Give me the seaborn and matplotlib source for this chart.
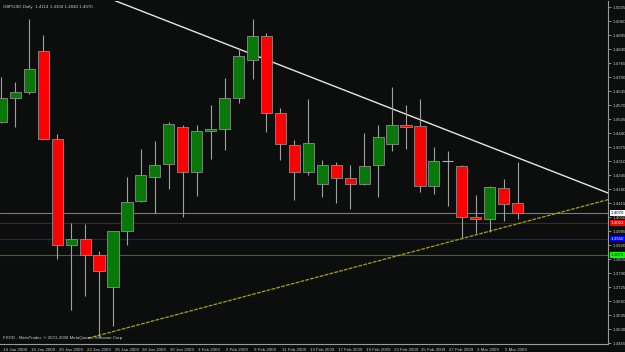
import matplotlib
matplotlib.use("Agg")
import matplotlib.pyplot as plt
import matplotlib.transforms as mtransforms
import numpy as np
import pandas as pd
import seaborn as sns

# ---- data -------------------------------------------------------------
dates = ["14 Jan", "15 Jan", "16 Jan", "19 Jan", "20 Jan", "21 Jan", "22 Jan", "23 Jan",
         "26 Jan", "27 Jan", "28 Jan", "29 Jan", "30 Jan", "2 Feb", "3 Feb", "4 Feb",
         "5 Feb", "6 Feb", "9 Feb", "10 Feb", "11 Feb", "12 Feb", "13 Feb", "16 Feb",
         "17 Feb", "18 Feb", "19 Feb", "20 Feb", "23 Feb", "24 Feb", "25 Feb", "26 Feb",
         "27 Feb", "2 Mar", "3 Mar", "4 Mar", "5 Mar", "6 Mar"]
opens = [1.4490, 1.4601, 1.4630, 1.4822, 1.4413, 1.3920, 1.3948, 1.3872, 1.3724, 1.3985,
         1.4123, 1.4234, 1.4295, 1.4466, 1.4258, 1.4448, 1.4459, 1.4601, 1.4778, 1.4889,
         1.4533, 1.4386, 1.4260, 1.4203, 1.4290, 1.4230, 1.4203, 1.4290, 1.4390, 1.4476,
         1.4472, 1.4194, 1.4309, 1.4287, 1.4049, 1.4042, 1.4185, 1.4114]
highs = [1.4701, 1.4675, 1.4969, 1.4895, 1.4434, 1.4021, 1.4017, 1.3892, 1.3986, 1.4234,
         1.4367, 1.4403, 1.4491, 1.4476, 1.4476, 1.4569, 1.4694, 1.4833, 1.4969, 1.4906,
         1.4557, 1.4407, 1.4596, 1.4315, 1.4305, 1.4291, 1.4439, 1.4476, 1.4652, 1.4569,
         1.4596, 1.4376, 1.4356, 1.4293, 1.4152, 1.4195, 1.4225, 1.4304]
lows = [1.4485, 1.4466, 1.4621, 1.4410, 1.3856, 1.3618, 1.3683, 1.3493, 1.3544, 1.3920,
        1.4120, 1.4067, 1.4181, 1.4049, 1.4148, 1.4318, 1.4361, 1.4581, 1.4692, 1.4446,
        1.4315, 1.4129, 1.4245, 1.4144, 1.4116, 1.4086, 1.4200, 1.4144, 1.4358, 1.4367,
        1.4167, 1.4157, 1.4102, 1.3951, 1.3977, 1.3982, 1.4031, 1.4040]
closes = [1.4601, 1.4629, 1.4736, 1.4412, 1.3920, 1.3949, 1.3872, 1.3801, 1.3986, 1.4121,
          1.4244, 1.4291, 1.4482, 1.4258, 1.4451, 1.4460, 1.4601, 1.4796, 1.4889, 1.4533,
          1.4388, 1.4258, 1.4392, 1.4290, 1.4232, 1.4205, 1.4287, 1.4420, 1.4479, 1.4469,
          1.4194, 1.4309, 1.4309, 1.4049, 1.4042, 1.4188, 1.4110, 1.4070]

date_labels = ["14 Jan 2009", "16 Jan 2009", "20 Jan 2009", "22 Jan 2009", "26 Jan 2009",
               "28 Jan 2009", "30 Jan 2009", "3 Feb 2009", "5 Feb 2009", "9 Feb 2009",
               "11 Feb 2009", "13 Feb 2009", "17 Feb 2009", "19 Feb 2009", "23 Feb 2009",
               "25 Feb 2009", "27 Feb 2009", "3 Mar 2009", "5 Mar 2009"]
price_ticks = [1.3465, 1.3530, 1.3595, 1.3660, 1.3725, 1.3790, 1.3855, 1.3920, 1.3985,
               1.4050, 1.4115, 1.4180, 1.4245, 1.4310, 1.4375, 1.4440, 1.4505, 1.4570,
               1.4635, 1.4700, 1.4765, 1.4830, 1.4895, 1.4960, 1.5025]

# trend lines (bar index, price)
down_x = [8.0, 43.5]
down_y = [1.5058, 1.4161]
up_x = [6.2, 43.5]
up_y = [1.3487, 1.4131]

# horizontal levels
level_close = 1.4070
level_red = 1.4023
level_blue = 1.3950
level_green = 1.3875

title_text = "GBPUSD,Daily  1.4114 1.4304 1.4040 1.4070"
footer_text = "FXDD - MetaTrader, \u00a9 2001-2008 MetaQuotes Software Corp."

# ---- figure -------------------------------------------------------------
sns.set_theme(style="dark")
plt.rcParams["font.family"] = ["Liberation Sans", "DejaVu Sans"]

BG = "#0c0e0e"
FG = "#c8c8c8"
AX = "#9a9a9a"
FS = 3.2

fig = plt.figure(figsize=(6.25, 3.52), dpi=100, facecolor=BG)
ax = fig.add_axes([0.0, 8 / 352, 608 / 625, 343 / 352])
ax.set_facecolor(BG)

df = pd.DataFrame({"i": np.arange(len(dates)), "open": opens, "high": highs,
                   "low": lows, "close": closes})
df["bull"] = df["close"] >= df["open"]

# horizontal lines
ax.axhline(level_close, color="#7a7a7a", lw=0.8, zorder=1)
ax.axhline(level_red, color="#9a0000", lw=0.8, zorder=1)
ax.axhline(level_blue, color="#1414d0", lw=0.8, zorder=1)
ax.axhline(level_green, color="#009000", lw=0.8, zorder=1)

# trend lines
sns.lineplot(x=down_x, y=down_y, ax=ax, color="#e6e6e6", lw=1.0, zorder=2, estimator=None)
sns.lineplot(x=up_x, y=up_y, ax=ax, color="#a6a600", lw=0.9, zorder=2, estimator=None,
             linestyle=(0, (3, 1)))

# wicks
ax.vlines(df["i"], df["low"], df["high"], color="#a0a0a0", lw=0.8, zorder=3)

# bodies
w = 0.8
for _, r in df.iterrows():
    lo = min(r["open"], r["close"])
    h = abs(r["close"] - r["open"])
    if h < 1e-6:
        ax.hlines(r["open"], r["i"] - w / 2, r["i"] + w / 2, color="#b0b0b0", lw=0.8, zorder=4)
        continue
    fc = "#087808" if r["bull"] else "#ff0000"
    ax.bar(r["i"], h, bottom=lo, width=w, color=fc, edgecolor="#8c8c8c", lw=0.6, zorder=4)

ax.set_xlim(-0.1, 43.48)
ax.set_ylim(1.34604, 1.50529)

# axes styling
for s in ["left", "top"]:
    ax.spines[s].set_visible(False)
for s in ["right", "bottom"]:
    ax.spines[s].set_color(AX)
    ax.spines[s].set_linewidth(0.8)
ax.grid(False)

ax.yaxis.tick_right()
ax.set_yticks(price_ticks)
ax.set_yticklabels([f"{p:.4f}" for p in price_ticks])
ax.tick_params(axis="y", colors=AX, labelcolor=FG, labelsize=FS, length=2, width=0.6, pad=1)

ax.set_xticks(np.arange(0, 38, 2))
ax.set_xticklabels(date_labels, ha="left")
ax.tick_params(axis="x", colors=AX, labelcolor=FG, labelsize=FS, length=2, width=0.6, pad=0.8)
for lbl in ax.get_xticklabels():
    lbl.set_horizontalalignment("left")
    lbl.set_transform(lbl.get_transform() + mtransforms.ScaledTranslation(1.5 / 100, 0, fig.dpi_scale_trans))
ax.set_xlabel("")
ax.set_ylabel("")

# price boxes
tr = mtransforms.blended_transform_factory(ax.transAxes, ax.transData)
boxes = [(level_close, "#ffffff", "#000000", "1.4070"),
         (level_red, "#ff0000", "#ffffff", "1.4023"),
         (level_blue, "#0000ff", "#ffffff", "1.3950"),
         (level_green, "#00ff00", "#000000", "1.3875")]
for val, bc, tc, txt in boxes:
    ax.text(1.004, val, txt, transform=tr, fontsize=FS, color=tc, va="center", ha="left",
            clip_on=False, zorder=10,
            bbox=dict(boxstyle="square,pad=0.2", fc=bc, ec="none"))

# texts
ax.text(0.005, 0.988, title_text, transform=ax.transAxes, fontsize=FS, color=FG,
        va="top", ha="left")
ax.text(0.005, 0.012, footer_text, transform=ax.transAxes, fontsize=FS, color=FG,
        va="bottom", ha="left")

fig.savefig("out.png", dpi=100, facecolor=BG)
